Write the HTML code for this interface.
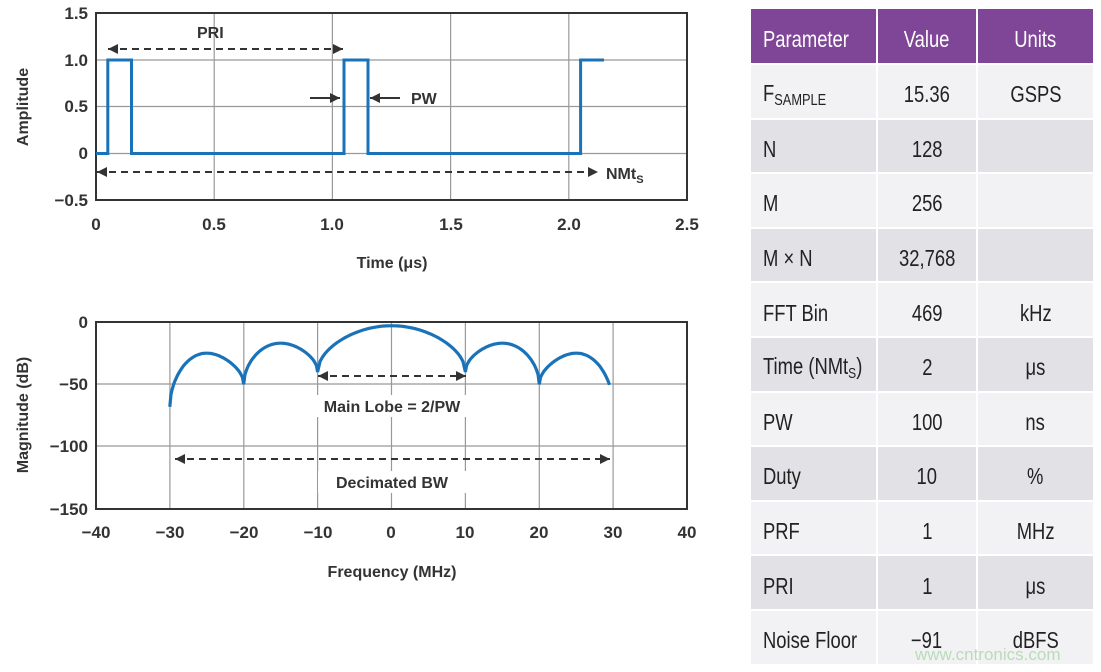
<!DOCTYPE html>
<html><head><meta charset="utf-8"><style>
body{margin:0;width:1101px;height:672px;background:#fff;overflow:hidden;position:relative;font-family:"Liberation Sans",sans-serif}
svg{position:absolute;left:0;top:0}
.c{position:absolute;display:flex;align-items:center;font-size:23px;color:#222;box-sizing:border-box;white-space:nowrap;padding-top:7px}
.c span{display:inline-block;transform:scaleX(.8);transform-origin:center}
.c.l span{transform-origin:left center}
</style></head><body>
<svg width="740" height="672" font-family="Liberation Sans, sans-serif" font-weight="bold" fill="#333">
<defs>
<marker id="ah" viewBox="0 0 10 10" refX="10" refY="5" markerWidth="14" markerHeight="10" markerUnits="userSpaceOnUse" orient="auto-start-reverse"><path d="M0,0L10,5L0,10z" fill="#333"/></marker>
</defs>
<g stroke="#999" stroke-width="1.2">
<line x1="214.2" y1="13" x2="214.2" y2="200"/><line x1="332.4" y1="13" x2="332.4" y2="200"/><line x1="450.6" y1="13" x2="450.6" y2="200"/><line x1="568.8" y1="13" x2="568.8" y2="200"/>
<line x1="96" y1="60" x2="687" y2="60"/><line x1="96" y1="106.5" x2="687" y2="106.5"/><line x1="96" y1="153.5" x2="687" y2="153.5"/>
<line x1="169.9" y1="322" x2="169.9" y2="509"/><line x1="243.8" y1="322" x2="243.8" y2="509"/><line x1="317.6" y1="322" x2="317.6" y2="509"/><line x1="391.5" y1="322" x2="391.5" y2="509"/><line x1="465.4" y1="322" x2="465.4" y2="509"/><line x1="539.3" y1="322" x2="539.3" y2="509"/><line x1="613.1" y1="322" x2="613.1" y2="509"/>
<line x1="96" y1="384" x2="687" y2="384"/><line x1="96" y1="446" x2="687" y2="446"/>
</g>
<rect x="96" y="13" width="591" height="187" fill="none" stroke="#333" stroke-width="2"/>
<rect x="96" y="322" width="591" height="187" fill="none" stroke="#333" stroke-width="2"/>
<polyline fill="none" stroke="#1a73b8" stroke-width="3" points="96,153.5 107.8,153.5 107.8,60 131.5,60 131.5,153.5 344,153.5 344,60 368,60 368,153.5 580.6,153.5 580.6,60 604,60"/>
<path id="spec" fill="none" stroke="#1a73b8" stroke-width="3.2" d=""/>
<g stroke="#333" stroke-width="2" stroke-dasharray="7,5" fill="none">
<line x1="108" y1="49" x2="343" y2="49" marker-start="url(#ah)" marker-end="url(#ah)"/>
<line x1="97" y1="172" x2="598" y2="172" marker-start="url(#ah)" marker-end="url(#ah)"/>
<line x1="318" y1="376" x2="466" y2="376" marker-start="url(#ah)" marker-end="url(#ah)"/>
<line x1="175" y1="459" x2="610" y2="459" marker-start="url(#ah)" marker-end="url(#ah)"/>
</g>
<g stroke="#333" stroke-width="2"><line x1="310" y1="98" x2="340" y2="98" marker-end="url(#ah)"/><line x1="400" y1="98" x2="370" y2="98" marker-end="url(#ah)"/></g>
<rect x="308" y="395" width="168" height="22" fill="#fff"/>
<rect x="318" y="471" width="148" height="22" fill="#fff"/>
<g font-size="16">
<text x="197" y="38">PRI</text><text x="411" y="104">PW</text><text x="606" y="179">NMt<tspan font-size="11" dy="4">S</tspan></text>
<text x="392" y="412" text-anchor="middle">Main Lobe = 2/PW</text>
<text x="392" y="488" text-anchor="middle">Decimated BW</text>
</g>
<g font-size="17" text-anchor="end">
<text x="88" y="19">1.5</text><text x="88" y="66">1.0</text><text x="88" y="112">0.5</text><text x="88" y="159">0</text><text x="88" y="206">−0.5</text>
<text x="88" y="328">0</text><text x="88" y="390">−50</text><text x="88" y="452">−100</text><text x="88" y="515">−150</text>
</g>
<g font-size="17" text-anchor="middle">
<text x="96" y="230">0</text><text x="214" y="230">0.5</text><text x="332" y="230">1.0</text><text x="451" y="230">1.5</text><text x="569" y="230">2.0</text><text x="687" y="230">2.5</text>
<text x="96" y="538">−40</text><text x="170" y="538">−30</text><text x="244" y="538">−20</text><text x="318" y="538">−10</text><text x="391" y="538">0</text><text x="465" y="538">10</text><text x="539" y="538">20</text><text x="613" y="538">30</text><text x="687" y="538">40</text>
<text x="392" y="268" font-size="16">Time (μs)</text>
<text x="392" y="577" font-size="16">Frequency (MHz)</text>
<text transform="translate(28,107) rotate(-90)" font-size="16">Amplitude</text>
<text transform="translate(28,415) rotate(-90)" font-size="16">Magnitude (dB)</text>
</g>
</svg>
<script>
var lobes=[[-30,-20,-25,-68,-50],[-20,-10,-17,-50,-40],[-10,10,-3,-40,-40],[10,20,-17,-40,-50],[20,30,-25,-50,-68]];
var d="";function X(f){return 391.5+f*7.39}function Y(v){return 322-v*187/150}
lobes.forEach(function(l){for(var i=0;i<=60;i++){var t=i/60;var f=l[0]+(l[1]-l[0])*t;if(f>29.5)break;var D=(l[3]+(l[4]-l[3])*t);var v=l[2]-(l[2]-D)*(1-Math.sqrt(Math.sin(Math.PI*t)));d+=(d?"L":"M")+X(f).toFixed(1)+","+Y(v).toFixed(1);}});
document.getElementById("spec").setAttribute("d",d);
</script>
<div id="tb"></div>
<script>
var rows=[["Parameter","Value","Units"],["F<sub style='font-size:16px;vertical-align:-4px'>SAMPLE</sub>","15.36","GSPS"],["N","128",""],["M","256",""],["M × N","32,768",""],["FFT Bin","469","kHz"],["Time (NMt<sub style='font-size:15px;vertical-align:-4px'>S</sub>)","2","μs"],["PW","100","ns"],["Duty","10","%"],["PRF","1","MHz"],["PRI","1","μs"],["Noise Floor","−91","dBFS"]];
var cols=[[751,125],[878,98],[978,115]];var h="";
rows.forEach(function(r,i){var y=i==0?9:65+(i-1)*54.6;var hh=i==0?54:52.6;var bg=i==0?"#7f4596":(i%2?"#f2f2f4":"#e1e1e6");var col=i==0?"#fff":"#222";
r.forEach(function(t,j){h+="<div class='c"+(j==0?" l":"")+"' style='left:"+cols[j][0]+"px;top:"+y+"px;width:"+cols[j][1]+"px;height:"+hh+"px;background:"+bg+";color:"+col+";"+(j==0?"padding-left:12px;":"justify-content:center;")+"'><span>"+t+"</span></div>";});});
document.getElementById("tb").innerHTML=h;
</script>
<div style="position:absolute;left:915px;top:645px;font-size:17px;color:#b8dcb8;font-family:'Liberation Sans',sans-serif">www.cntronics.com</div>
</body></html>
